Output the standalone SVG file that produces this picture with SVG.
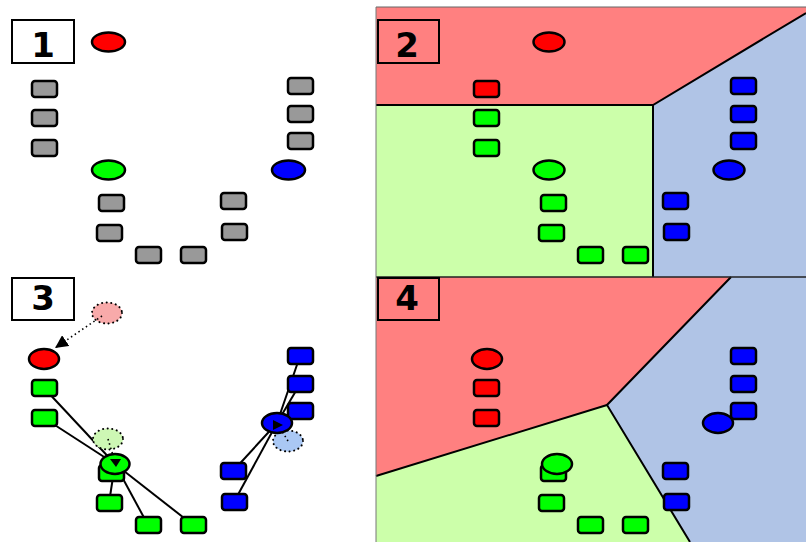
<svg xmlns="http://www.w3.org/2000/svg" width="806" height="542" viewBox="0 0 806 542">
<defs>
<style>
.sq{stroke:#000;stroke-width:2.5;rx:3;ry:3}
.g{fill:#999999}.r{fill:#ff0000}.gr{fill:#00ff00}.b{fill:#0000ff}
.c{stroke:#000;stroke-width:2.5}
.fade{stroke:#000;stroke-width:2;stroke-dasharray:0.1 4.5;stroke-linecap:round}
.lbl{fill:#fff;stroke:#000;stroke-width:2}
.lblt{fill:none;stroke:#000;stroke-width:2}
.num{font-family:"DejaVu Sans",sans-serif;font-weight:bold;font-size:34px;text-anchor:middle;fill:#000}
.edge{stroke:#000;stroke-width:2;fill:none}
.ln{stroke:#000;stroke-width:2;fill:none}
.dot{stroke:#000;stroke-width:1.6;stroke-dasharray:1.5 3;fill:none}
.reg-r{fill:#ff8080}.reg-g{fill:#ccffaa}.reg-b{fill:#b0c4e6}
</style>
<marker id="ah" viewBox="0 0 10 10" refX="9" refY="5" markerWidth="7" markerHeight="7" markerUnits="userSpaceOnUse" orient="auto">
<path d="M0,0 L10,5 L0,10 z" fill="#000"/>
</marker>
<marker id="ah2" viewBox="0 0 10 10" refX="10" refY="5" markerWidth="13" markerHeight="13" markerUnits="userSpaceOnUse" orient="auto">
<path d="M0,0 L10,5 L0,10 z" fill="#000"/>
</marker>
</defs>
<rect width="806" height="542" fill="#fff"/>

<!-- Panel 2 regions -->
<g id="panel2-regions">
<polygon class="reg-r" points="376,7 806,7 806,13 653,105 376,105"/>
<polygon class="reg-g" points="376,105 653,105 653,277 376,277"/>
<polygon class="reg-b" points="653,105 806,13 806,277 653,277"/>
<polyline class="edge" points="376,105 653,105 806,13"/>
<line class="edge" x1="653" y1="105" x2="653" y2="277"/>
<line x1="376" y1="7" x2="806" y2="7" stroke="#666" stroke-width="1"/>
</g>
<!-- Panel 4 regions -->
<g id="panel4-regions">
<polygon class="reg-r" points="376,277 731,277 607,405 376,476"/>
<polygon class="reg-b" points="731,277 806,277 806,542 690,542 607,405"/>
<polygon class="reg-g" points="376,476 607,405 690,542 376,542"/>
<polyline class="edge" points="731,277 607,405 690,542"/>
<line class="edge" x1="607" y1="405" x2="376" y2="476"/>
<line x1="376" y1="277" x2="806" y2="277" stroke="#222" stroke-width="1.5"/>
</g>
<line x1="376" y1="7" x2="376" y2="542" stroke="#777" stroke-width="1"/>

<!-- Labels -->
<g id="label1"><rect class="lbl" x="12" y="20" width="62" height="43"/><text class="num" x="43" y="57">1</text></g>
<g id="label2"><rect class="lblt" x="378" y="20" width="61" height="43"/><text class="num" x="407" y="57">2</text></g>
<g id="label3"><rect class="lbl" x="12" y="278" width="62" height="42"/><text class="num" x="43" y="310">3</text></g>
<g id="label4"><rect class="lblt" x="378" y="278" width="61" height="42"/><text class="num" x="407" y="310">4</text></g>

<!-- Panel 3 connectors -->
<g id="connectors">
<line class="ln" x1="44" y1="388" x2="115" y2="464"/>
<line class="ln" x1="44" y1="418" x2="115" y2="464"/>
<line class="ln" x1="109" y1="503" x2="115" y2="464"/>
<line class="ln" x1="148" y1="525" x2="115" y2="464"/>
<line class="ln" x1="193" y1="525" x2="115" y2="464"/>
<line class="ln" x1="300" y1="356" x2="277" y2="423"/>
<line class="ln" x1="300" y1="384" x2="277" y2="423"/>
<line class="ln" x1="300" y1="411" x2="277" y2="423"/>
<line class="ln" x1="233" y1="471" x2="277" y2="423"/>
<line class="ln" x1="234" y1="502" x2="277" y2="423"/>
</g>

<!-- Panel 3 old centroids -->
<g id="p3-old-red"><ellipse cx="107" cy="313" rx="15" ry="10.5" fill="#f8aaaa" class="fade"/></g>
<g id="p3-old-green"><ellipse cx="108" cy="439" rx="15" ry="10.5" fill="#cdf7b4" class="fade"/></g>
<g id="p3-old-blue"><ellipse cx="288" cy="441" rx="15" ry="10.5" fill="#aac8f4" class="fade"/></g>
<g id="p3-moves">
<line class="dot" x1="102" y1="316" x2="55" y2="348" marker-end="url(#ah2)"/>
<line class="dot" x1="108" y1="439" x2="115" y2="462"/>
<line class="dot" x1="288" y1="441" x2="277" y2="423"/>
</g>

<!-- Panel 1 -->
<g id="p1-points">
<rect class="sq g" x="32" y="81" width="25" height="16"/>
<rect class="sq g" x="32" y="110" width="25" height="16"/>
<rect class="sq g" x="32" y="140" width="25" height="16"/>
<rect class="sq g" x="288" y="78" width="25" height="16"/>
<rect class="sq g" x="288" y="106" width="25" height="16"/>
<rect class="sq g" x="288" y="133" width="25" height="16"/>
<rect class="sq g" x="99" y="195" width="25" height="16"/>
<rect class="sq g" x="97" y="225" width="25" height="16"/>
<rect class="sq g" x="136" y="247" width="25" height="16"/>
<rect class="sq g" x="181" y="247" width="25" height="16"/>
<rect class="sq g" x="221" y="193" width="25" height="16"/>
<rect class="sq g" x="222" y="224" width="25" height="16"/>
</g>
<g id="p1-red"><ellipse class="c r" cx="108.5" cy="42" rx="16.5" ry="9.5"/></g>
<g id="p1-green"><ellipse class="c gr" cx="108.5" cy="170" rx="16.5" ry="9.5"/></g>
<g id="p1-blue"><ellipse class="c b" cx="288.5" cy="170" rx="16.5" ry="9.5"/></g>

<!-- Panel 2 -->
<g id="p2-points">
<rect class="sq r" x="474" y="81" width="25" height="16"/>
<rect class="sq gr" x="474" y="110" width="25" height="16"/>
<rect class="sq gr" x="474" y="140" width="25" height="16"/>
<rect class="sq b" x="731" y="78" width="25" height="16"/>
<rect class="sq b" x="731" y="106" width="25" height="16"/>
<rect class="sq b" x="731" y="133" width="25" height="16"/>
<rect class="sq gr" x="541" y="195" width="25" height="16"/>
<rect class="sq gr" x="539" y="225" width="25" height="16"/>
<rect class="sq gr" x="578" y="247" width="25" height="16"/>
<rect class="sq gr" x="623" y="247" width="25" height="16"/>
<rect class="sq b" x="663" y="193" width="25" height="16"/>
<rect class="sq b" x="664" y="224" width="25" height="16"/>
</g>
<g id="p2-red"><ellipse class="c r" cx="549" cy="42" rx="15.5" ry="9.5"/></g>
<g id="p2-green"><ellipse class="c gr" cx="549" cy="170" rx="15.5" ry="9.5"/></g>
<g id="p2-blue"><ellipse class="c b" cx="729" cy="170" rx="15.5" ry="9.5"/></g>

<!-- Panel 3 -->
<g id="p3-points">
<rect class="sq gr" x="32" y="380" width="25" height="16"/>
<rect class="sq gr" x="32" y="410" width="25" height="16"/>
<rect class="sq b" x="288" y="348" width="25" height="16"/>
<rect class="sq b" x="288" y="376" width="25" height="16"/>
<rect class="sq b" x="288" y="403" width="25" height="16"/>
<rect class="sq gr" x="99" y="465" width="25" height="16"/>
<rect class="sq gr" x="97" y="495" width="25" height="16"/>
<rect class="sq gr" x="136" y="517" width="25" height="16"/>
<rect class="sq gr" x="181" y="517" width="25" height="16"/>
<rect class="sq b" x="221" y="463" width="25" height="16"/>
<rect class="sq b" x="222" y="494" width="25" height="16"/>
</g>
<g id="p3-red"><ellipse class="c r" cx="44" cy="359" rx="15" ry="10"/></g>
<g id="p3-green"><ellipse class="c gr" cx="115" cy="464" rx="14.5" ry="10"/><polygon points="110,459 121,459 116,467" fill="#000"/></g>
<g id="p3-blue"><ellipse class="c b" cx="277" cy="423" rx="15" ry="10"/><polygon points="273,420 283,425 273,430" fill="#000"/></g>

<!-- Panel 4 -->
<g id="p4-points">
<rect class="sq r" x="474" y="380" width="25" height="16"/>
<rect class="sq r" x="474" y="410" width="25" height="16"/>
<rect class="sq b" x="731" y="348" width="25" height="16"/>
<rect class="sq b" x="731" y="376" width="25" height="16"/>
<rect class="sq b" x="731" y="403" width="25" height="16"/>
<rect class="sq gr" x="541" y="465" width="25" height="16"/>
<rect class="sq gr" x="539" y="495" width="25" height="16"/>
<rect class="sq gr" x="578" y="517" width="25" height="16"/>
<rect class="sq gr" x="623" y="517" width="25" height="16"/>
<rect class="sq b" x="663" y="463" width="25" height="16"/>
<rect class="sq b" x="664" y="494" width="25" height="16"/>
</g>
<g id="p4-red"><ellipse class="c r" cx="487" cy="359" rx="15" ry="10"/></g>
<g id="p4-green"><ellipse class="c gr" cx="557" cy="464" rx="15" ry="10"/></g>
<g id="p4-blue"><ellipse class="c b" cx="718" cy="423" rx="15" ry="10"/></g>
</svg>
